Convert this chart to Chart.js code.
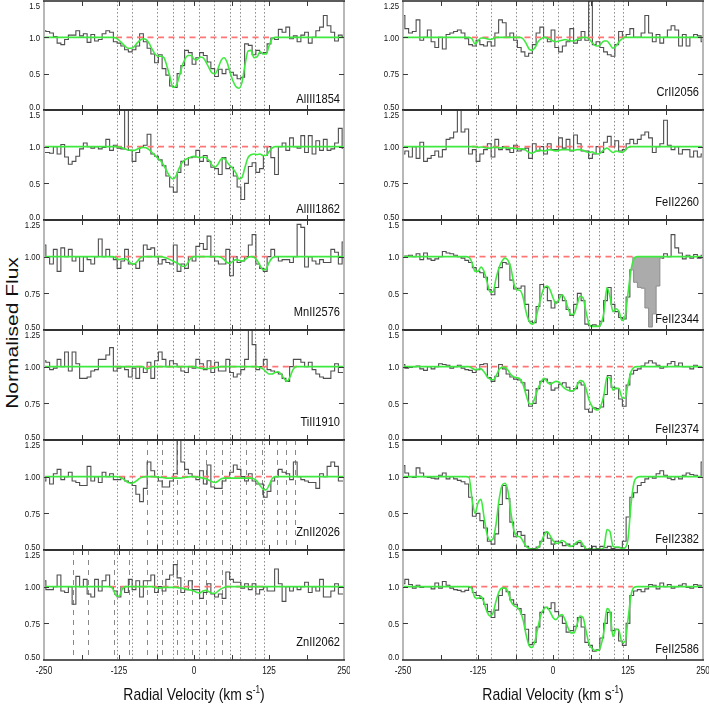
<!DOCTYPE html>
<html>
<head>
<meta charset="utf-8">
<script src="https://cdn.jsdelivr.net/npm/chart.js@4.4.1/dist/chart.umd.min.js"></script>
<style>
html, body { margin: 0; padding: 0; background: #fff; }
body { width: 709px; height: 708px; position: relative; overflow: hidden; }
canvas { position: absolute; }
#ytitle {
	position: absolute; left: -88px; top: 321px; width: 200px; height: 24px;
	line-height: 24px; text-align: center; color: #111;
	font: 21px "Liberation Sans", Arial, Helvetica, sans-serif;
	transform: rotate(-90deg) scaleY(0.82);
}
</style>
</head>
<body>
<div id="ytitle">Normalised Flux</div>
<script>
// velocity grid of the observed spectra (km/s), one value per pixel bin
const velGrid = [
	-250, -243.75, -237.5, -231.25, -225, -218.75, -212.5, -206.25, -200, -193.75,
	-187.5, -181.25, -175, -168.75, -162.5, -156.25, -150, -143.75, -137.5, -131.25,
	-125, -118.75, -112.5, -106.25, -100, -93.75, -87.5, -81.25, -75, -68.75,
	-62.5, -56.25, -50, -43.75, -37.5, -31.25, -25, -18.75, -12.5, -6.25,
	0, 6.25, 12.5, 18.75, 25, 31.25, 37.5, 43.75, 50, 56.25,
	62.5, 68.75, 75, 81.25, 87.5, 93.75, 100, 106.25, 112.5, 118.75,
	125, 131.25, 137.5, 143.75, 150, 156.25, 162.5, 168.75, 175, 181.25,
	187.5, 193.75, 200, 206.25, 212.5, 218.75, 225, 231.25, 237.5, 243.75,
	250
];

// velocities at which the model profiles are tabulated
const fitVel = [
	-250,
	-145, -140, -135, -130, -125, -120, -115, -110, -105, -100,
	-95, -90, -85, -80, -75, -70, -65, -60, -55, -50,
	-45, -40, -35, -30, -25, -20, -15, -10, -5, 0,
	5, 10, 15, 20, 25, 30, 35, 40, 45, 50,
	55, 60, 65, 70, 75, 80, 85, 90, 95, 100,
	105, 110, 115, 120, 125, 130, 135, 140, 145, 150,
	155, 160, 165, 170, 175,
	250
];

// fitted velocity components (dotted lines)
const componentVel = [-128, -103, -61, -35, -16.5, 8.5, 33.5, 60.5, 76.5, 101, 117];
// components of blending transitions (dashed lines)
const mgIBlendVel = [-78, -53, -28, 20, 46, 86, 113, 139, 153, 168];
const crIIBlendVel = [-201, -176, -134, -108, -78, -53, -28, -3, 20, 46];

const xTickMarks = [-187.5, -125, -62.5, 0, 62.5, 125, 187.5];
const xTickLabels = [-250, -125, 0, 125, 250];
const yTicksWide = [0, 0.5, 1.0, 1.5];
const yTicksNarrow = [0.5, 0.75, 1.0, 1.25];

// ---------- observed flux ----------
const alIII1854Flux = [
	1.09, 1.08, 1.06, 1.01, 0.92, 0.90, 0.97, 1.03, 1.03, 1.09,
	1.02, 1.05, 0.93, 1.04, 0.95, 0.97, 1.05, 1.09, 1.07, 0.94,
	0.92, 0.88, 0.83, 0.80, 0.83, 0.88, 1.05, 0.94, 0.85, 0.77,
	0.65, 0.76, 0.57, 0.48, 0.33, 0.31, 0.50, 0.61, 0.82, 0.79,
	0.63, 0.72, 0.79, 0.75, 0.66, 0.57, 0.46, 0.56, 0.50, 0.56,
	0.52, 0.48, 0.43, 0.45, 0.91, 0.89, 0.76, 0.82, 0.78, 0.79,
	0.91, 0.99, 0.97, 1.11, 1.07, 1.14, 0.98, 1.02, 0.94, 1.03,
	1.07, 0.92, 1.00, 1.09, 1.14, 1.30, 1.16, 1.07, 0.95, 1.03,
	1.01
];
const alIII1862Flux = [
	0.92, 0.92, 0.91, 1.00, 0.90, 1.03, 0.86, 0.76, 0.80, 0.87,
	0.97, 1.05, 1.00, 0.98, 1.00, 0.97, 0.99, 1.10, 0.95, 1.02,
	0.98, 0.97, 1.55, 0.95, 0.80, 0.92, 0.99, 1.02, 1.17, 0.90,
	0.87, 0.82, 0.74, 0.60, 0.45, 0.38, 0.65, 0.80, 0.75, 0.85,
	0.86, 0.95, 0.80, 0.88, 0.80, 0.72, 0.70, 0.62, 0.85, 0.70,
	0.72, 0.60, 0.45, 0.28, 0.50, 0.73, 0.78, 0.65, 0.70, 0.88,
	1.00, 0.85, 0.62, 1.00, 1.05, 0.95, 1.12, 1.00, 0.98, 1.15,
	0.92, 1.15, 0.90, 1.08, 0.95, 1.10, 0.95, 0.97, 1.05, 1.25,
	0.98
];
const mnII2576Flux = [
	1.08, 1.00, 0.95, 1.05, 0.90, 1.06, 1.00, 1.05, 0.97, 1.00,
	0.90, 1.00, 0.98, 0.95, 1.00, 1.12, 1.00, 1.05, 1.00, 0.98,
	0.92, 0.97, 1.05, 0.95, 0.95, 0.92, 0.97, 1.08, 1.05, 1.06,
	1.00, 0.95, 0.98, 0.96, 0.95, 1.08, 0.90, 0.95, 0.92, 1.00,
	0.97, 1.07, 1.09, 1.05, 1.14, 1.00, 0.97, 0.95, 0.95, 1.05,
	0.87, 1.00, 0.96, 0.97, 1.00, 1.08, 1.15, 0.95, 0.92, 0.90,
	1.00, 1.05, 1.00, 0.97, 0.98, 0.98, 0.96, 1.00, 1.22, 1.20,
	0.93, 1.00, 0.97, 0.95, 0.98, 0.96, 0.96, 1.05, 1.03, 0.95,
	1.10
];
const tiII1910Flux = [
	1.04, 1.03, 0.98, 0.99, 1.05, 1.00, 1.10, 0.97, 1.10, 1.02,
	0.92, 0.92, 0.93, 0.97, 0.98, 1.05, 1.05, 1.08, 1.13, 0.97,
	0.99, 1.00, 0.98, 0.93, 0.99, 0.92, 1.00, 0.96, 1.03, 0.92,
	1.04, 1.10, 1.05, 1.00, 1.04, 1.02, 1.00, 0.97, 0.96, 1.00,
	0.99, 1.05, 1.02, 0.98, 1.04, 0.96, 1.03, 0.97, 0.97, 1.05,
	0.96, 0.93, 0.95, 0.98, 1.05, 1.30, 1.15, 0.98, 1.00, 1.05,
	0.98, 0.97, 0.96, 0.95, 0.92, 0.90, 1.00, 1.05, 1.05, 1.03,
	1.00, 1.03, 0.98, 0.95, 0.93, 0.92, 0.92, 0.97, 1.02, 0.96,
	0.96
];
const znII2026Flux = [
	0.97, 1.00, 0.95, 1.02, 1.05, 0.98, 1.00, 1.03, 0.97, 0.96,
	0.94, 0.94, 1.07, 0.97, 1.00, 0.96, 1.03, 1.00, 1.02, 0.98,
	0.98, 1.00, 0.97, 0.96, 0.94, 0.88, 0.83, 0.92, 1.10, 1.04,
	1.00, 0.97, 0.93, 0.93, 0.97, 1.02, 1.30, 1.10, 1.05, 1.02,
	1.00, 0.98, 1.04, 0.95, 1.08, 0.93, 0.92, 0.92, 0.97, 1.00,
	1.03, 1.08, 1.05, 1.00, 0.97, 1.02, 0.97, 0.95, 0.95, 0.86,
	0.90, 0.97, 1.00, 1.05, 1.03, 1.02, 0.98, 1.10, 1.00, 0.98,
	0.97, 0.96, 0.96, 0.92, 1.02, 1.00, 1.07, 1.10, 1.07, 0.97,
	0.97
];
const znII2062Flux = [
	1.04, 0.98, 0.98, 1.00, 1.08, 0.97, 0.96, 1.00, 0.88, 1.07,
	1.00, 1.05, 0.95, 0.93, 1.05, 0.97, 1.04, 1.08, 1.00, 0.97,
	0.93, 1.00, 0.96, 1.05, 0.98, 1.04, 0.93, 1.04, 1.04, 1.08,
	0.96, 1.00, 0.97, 1.05, 1.08, 1.15, 1.06, 0.96, 0.98, 1.04,
	0.98, 0.98, 0.92, 0.96, 1.02, 0.95, 0.93, 0.95, 0.92, 1.10,
	1.05, 1.03, 1.03, 0.99, 1.02, 0.98, 1.02, 0.95, 0.98, 1.00,
	0.97, 0.97, 1.12, 1.02, 0.90, 1.00, 0.97, 1.00, 0.98, 1.00,
	1.03, 0.96, 1.00, 0.97, 1.05, 0.93, 0.93, 0.97, 1.02, 0.95,
	0.95
];
const crII2056Flux = [
	1.15, 1.06, 1.03, 1.04, 1.12, 0.98, 1.00, 1.05, 0.97, 0.93,
	1.00, 0.92, 1.02, 1.03, 1.04, 1.05, 1.03, 0.99, 0.95, 0.94,
	0.98, 0.95, 0.94, 0.97, 0.94, 1.03, 1.12, 1.10, 1.00, 1.03,
	0.98, 0.93, 0.90, 0.87, 0.89, 0.95, 1.03, 1.07, 1.00, 0.97,
	1.05, 0.93, 0.90, 0.94, 0.97, 1.06, 0.96, 0.98, 1.04, 0.98,
	1.27, 0.95, 0.97, 0.93, 0.90, 0.88, 0.87, 0.95, 1.04, 1.00,
	1.02, 1.06, 1.00, 1.00, 1.03, 1.15, 1.03, 0.97, 1.02, 0.96,
	1.00, 1.05, 1.08, 1.05, 0.94, 1.02, 0.94, 1.00, 1.02, 1.01,
	0.97
];
const feII2260Flux = [
	0.95, 0.97, 0.93, 1.00, 0.92, 1.03, 0.90, 0.92, 0.94, 0.97,
	0.93, 0.98, 1.05, 1.06, 1.10, 1.27, 1.10, 1.12, 0.95, 0.98,
	0.90, 0.95, 0.98, 1.02, 0.93, 1.05, 0.98, 1.00, 0.98, 0.96,
	1.01, 0.97, 0.98, 0.99, 0.92, 1.02, 0.97, 1.00, 0.95, 1.02,
	0.98, 0.98, 1.06, 0.99, 1.05, 0.97, 1.08, 1.02, 0.97, 0.97,
	0.92, 0.95, 1.00, 0.96, 1.03, 1.07, 1.00, 1.04, 0.97, 0.98,
	1.02, 1.05, 1.02, 1.05, 1.08, 1.10, 1.06, 0.96, 1.00, 1.02,
	1.18, 1.01, 0.98, 1.00, 0.95, 0.98, 0.98, 0.93, 0.97, 0.93,
	0.95
];
const feII2344Flux = [
	1.00, 1.01, 1.02, 1.00, 1.04, 0.96, 1.05, 0.97, 0.95, 0.97,
	1.00, 1.07, 1.05, 1.04, 1.02, 1.00, 0.98, 0.95, 0.92, 0.85,
	0.80, 0.78, 0.72, 0.55, 0.48, 0.58, 0.85, 0.92, 0.90, 0.68,
	0.56, 0.57, 0.60, 0.35, 0.12, 0.10, 0.32, 0.62, 0.58, 0.40,
	0.30, 0.38, 0.48, 0.40, 0.28, 0.20, 0.35, 0.50, 0.40, 0.08,
	0.06, 0.07, 0.05, 0.12, 0.40, 0.58, 0.35, 0.25, 0.17, 0.15,
	0.45, 0.82, null, null, null, null, null, null, null, 0.98,
	1.04, 1.00, 1.30, 1.12, 1.05, 0.97, 1.02, 0.98, 1.03, 0.98,
	1.02
];
// blended (masked) stretch of FeII2344, shaded grey
const feII2344BlendVel = [131.25, 137.5, 143.75, 150, 156.25, 162.5, 168.75, 175, 181.25];
const feII2344BlendFlux = [0.82, 0.65, 0.58, 0.57, 0.30, 0.04, 0.22, 0.60, 0.98];
const feII2374Flux = [
	1.03, 0.98, 0.99, 1.00, 1.01, 0.97, 0.95, 1.00, 0.97, 1.00,
	1.04, 1.03, 1.02, 0.98, 1.00, 1.02, 0.98, 0.96, 0.95, 0.92,
	0.96, 1.03, 1.04, 0.85, 0.80, 0.87, 1.03, 0.97, 0.90, 0.86,
	0.83, 0.82, 0.78, 0.68, 0.46, 0.50, 0.70, 0.80, 0.83, 0.78,
	0.68, 0.71, 0.76, 0.78, 0.72, 0.67, 0.70, 0.78, 0.75, 0.42,
	0.38, 0.44, 0.43, 0.45, 0.62, 0.88, 0.72, 0.70, 0.56, 0.46,
	0.75, 0.90, 0.95, 0.97, 1.01, 1.05, 1.08, 1.05, 1.02, 0.98,
	1.00, 1.04, 1.07, 1.01, 1.05, 1.00, 1.00, 0.97, 1.02, 1.00,
	1.00
];
const feII2382Flux = [
	1.15, 1.05, 1.00, 0.99, 1.12, 1.05, 1.00, 0.99, 0.98, 0.97,
	1.02, 1.05, 0.97, 1.00, 0.97, 0.95, 0.93, 0.90, 0.72, 0.46,
	0.50, 0.40, 0.30, 0.12, 0.08, 0.22, 0.62, 0.88, 0.70, 0.38,
	0.18, 0.25, 0.20, 0.05, 0.02, 0.02, 0.04, 0.12, 0.24, 0.16,
	0.08, 0.12, 0.10, 0.06, 0.08, 0.05, 0.08, 0.10, 0.05, 0.01,
	0.02, 0.05, 0.02, 0.05, 0.03, 0.05, 0.02, 0.03, 0.03, 0.12,
	0.45, 0.72, 0.78, 0.88, 0.92, 0.97, 1.00, 0.98, 1.04, 1.08,
	1.02, 0.98, 0.96, 1.00, 0.97, 1.02, 1.05, 1.03, 1.02, 1.00,
	1.20
];
const feII2586Flux = [
	1.04, 1.10, 1.03, 0.98, 1.02, 0.99, 1.00, 1.00, 0.97, 1.05,
	0.98, 1.07, 1.02, 0.98, 0.96, 0.95, 0.93, 0.95, 0.99, 0.92,
	0.88, 0.84, 0.76, 0.66, 0.58, 0.68, 0.88, 0.98, 0.93, 0.82,
	0.76, 0.70, 0.62, 0.42, 0.21, 0.24, 0.45, 0.65, 0.72, 0.70,
	0.78, 0.66, 0.60, 0.50, 0.38, 0.40, 0.46, 0.58, 0.45, 0.24,
	0.20, 0.12, 0.14, 0.30, 0.50, 0.65, 0.40, 0.42, 0.26, 0.20,
	0.50, 0.88, 0.94, 0.96, 0.93, 0.97, 1.03, 1.02, 0.97, 1.05,
	1.00, 1.03, 0.98, 1.00, 1.02, 1.04, 0.99, 0.98, 1.03, 1.02,
	1.01
];

// ---------- model profiles (on fitVel) ----------
const alIII1854Fit = [1,
	1, 1, 1, 0.99, 0.96, 0.92, 0.88, 0.85, 0.85, 0.87,
	0.92, 0.96, 0.98, 0.97, 0.92, 0.84, 0.77, 0.74, 0.74, 0.72,
	0.60, 0.45, 0.31, 0.33, 0.45, 0.60, 0.70, 0.75, 0.75, 0.70,
	0.69, 0.73, 0.72, 0.66, 0.58, 0.51, 0.50, 0.57, 0.68, 0.72,
	0.66, 0.52, 0.40, 0.32, 0.30, 0.38, 0.62, 0.81, 0.82, 0.72,
	0.73, 0.80, 0.77, 0.77, 0.88, 0.98, 1, 1, 1, 1,
	1, 1, 1, 1, 1,
	1];
const alIII1862Fit = [1,
	1, 1, 1, 1, 0.995, 0.985, 0.97, 0.955, 0.95, 0.95,
	0.965, 0.98, 0.99, 0.985, 0.96, 0.92, 0.88, 0.84, 0.80, 0.74,
	0.66, 0.59, 0.56, 0.60, 0.70, 0.78, 0.82, 0.84, 0.86, 0.87,
	0.86, 0.85, 0.86, 0.85, 0.81, 0.75, 0.72, 0.76, 0.83, 0.84,
	0.79, 0.74, 0.70, 0.64, 0.56, 0.58, 0.72, 0.85, 0.89, 0.90,
	0.89, 0.90, 0.88, 0.88, 0.93, 0.98, 1, 1, 1, 1,
	1, 1, 1, 1, 1,
	1];
const mnII2576Fit = [1,
	1, 1, 1, 0.99, 0.98, 0.985, 0.985, 0.975, 0.955, 0.95,
	0.965, 0.99, 1, 1, 1, 1, 1, 1, 1, 0.995,
	0.99, 0.98, 0.97, 0.96, 0.95, 0.935, 0.935, 0.96, 0.99, 1,
	1, 1, 1, 1, 1, 1, 1, 1, 0.995, 0.98,
	0.96, 0.955, 0.97, 0.98, 0.975, 0.97, 0.98, 0.995, 1, 0.995,
	0.975, 0.94, 0.91, 0.915, 0.96, 0.99, 1, 1, 1, 1,
	1, 1, 1, 1, 1,
	1];
const tiII1910Fit = [1,
	1, 1, 1, 1, 1, 1, 1, 1, 1, 1,
	1, 1, 1, 0.985, 0.99, 1, 1, 1, 1, 1,
	1, 1, 1, 1, 1, 1, 1, 1, 1, 1,
	0.995, 0.99, 0.988, 0.988, 0.988, 0.99, 0.993, 0.997, 1, 1,
	1, 1, 1, 1, 1, 1, 1, 1, 1, 1,
	1, 0.995, 0.985, 0.965, 0.95, 0.95, 0.96, 0.965, 0.95, 0.92,
	0.90, 0.93, 0.98, 1, 1,
	1];
const znII2026Fit = [1,
	1, 1, 1, 1, 0.998, 0.99, 0.975, 0.96, 0.955, 0.96,
	0.975, 0.99, 0.998, 1, 1, 1, 1, 0.998, 0.995, 0.993,
	0.99, 0.99, 0.99, 0.99, 0.99, 0.992, 0.995, 0.998, 1, 1,
	0.998, 0.995, 0.99, 0.985, 0.975, 0.965, 0.96, 0.97, 0.985, 0.99,
	0.99, 0.99, 0.99, 0.99, 0.99, 0.99, 0.99, 0.99, 0.99, 0.985,
	0.97, 0.94, 0.915, 0.91, 0.94, 0.985, 1, 1, 1, 1,
	1, 1, 1, 1, 1,
	1];
const znII2062Fit = [1,
	1, 1, 0.985, 0.94, 0.935, 0.98, 1, 1, 1, 1,
	1, 1, 1, 1, 1, 1, 0.995, 0.99, 0.992, 0.995,
	0.995, 0.995, 0.995, 0.995, 0.992, 0.99, 0.985, 0.98, 0.975, 0.97,
	0.96, 0.958, 0.97, 0.975, 0.965, 0.955, 0.955, 0.97, 0.985, 0.995,
	1, 1, 1, 1, 1, 1, 1, 1, 1, 1,
	1, 1, 1, 1, 1, 1, 1, 1, 1, 1,
	1, 1, 1, 1, 1,
	1];
const crII2056Fit = [1,
	1, 1, 0.99, 0.955, 0.975, 0.995, 0.995, 0.99, 0.985, 0.99,
	1, 1, 1, 1, 1, 1, 1, 1, 1, 0.99,
	0.96, 0.92, 0.91, 0.93, 0.97, 0.99, 1, 0.995, 0.985, 0.975,
	0.97, 0.975, 0.98, 0.985, 0.98, 0.975, 0.975, 0.985, 0.995, 1,
	1, 0.99, 0.965, 0.945, 0.94, 0.955, 0.975, 0.975, 0.95, 0.925,
	0.94, 0.97, 0.99, 1, 1, 1, 1, 1, 1, 1,
	1, 1, 1, 1, 1,
	1];
const feII2260Fit = [1,
	1, 1, 1, 1, 0.995, 0.998, 0.995, 0.99, 0.99, 0.995,
	0.995, 0.993, 0.99, 0.995, 0.99, 0.99, 0.99, 0.985, 0.985, 0.985,
	0.975, 0.96, 0.955, 0.965, 0.975, 0.975, 0.97, 0.975, 0.98, 0.975,
	0.97, 0.975, 0.98, 0.98, 0.98, 0.975, 0.975, 0.98, 0.98, 0.975,
	0.965, 0.96, 0.965, 0.955, 0.95, 0.96, 0.98, 0.99, 0.975, 0.96,
	0.97, 0.965, 0.96, 0.975, 0.995, 1, 1, 1, 1, 1,
	1, 1, 1, 1, 1,
	1];
const feII2344Fit = [1,
	1, 0.99, 0.92, 0.80, 0.80, 0.86, 0.80, 0.66, 0.52, 0.52,
	0.70, 0.85, 0.94, 0.98, 0.95, 0.84, 0.62, 0.55, 0.54, 0.45,
	0.25, 0.12, 0.08, 0.12, 0.28, 0.45, 0.57, 0.60, 0.55, 0.44,
	0.36, 0.42, 0.48, 0.42, 0.30, 0.21, 0.22, 0.34, 0.46, 0.44,
	0.25, 0.08, 0.05, 0.05, 0.05, 0.08, 0.25, 0.58, 0.45, 0.25,
	0.29, 0.25, 0.13, 0.18, 0.50, 0.82, 0.97, 1, 1, 1,
	1, 1, 1, 1, 1,
	1];
const feII2374Fit = [1,
	1, 1, 0.98, 0.96, 0.965, 0.97, 0.93, 0.87, 0.83, 0.82,
	0.87, 0.96, 0.99, 0.99, 0.95, 0.89, 0.86, 0.85, 0.83, 0.76,
	0.62, 0.50, 0.49, 0.58, 0.70, 0.79, 0.84, 0.80, 0.76, 0.78,
	0.80, 0.79, 0.74, 0.70, 0.68, 0.67, 0.68, 0.74, 0.81, 0.80,
	0.70, 0.55, 0.46, 0.42, 0.41, 0.47, 0.62, 0.86, 0.84, 0.68,
	0.71, 0.70, 0.58, 0.57, 0.76, 0.93, 0.99, 1, 1, 1,
	1, 1, 1, 1, 1,
	1];
const feII2382Fit = [1,
	1, 0.99, 0.70, 0.50, 0.64, 0.69, 0.45, 0.22, 0.13, 0.15,
	0.35, 0.68, 0.88, 0.91, 0.80, 0.50, 0.26, 0.19, 0.18, 0.12,
	0.05, 0.02, 0.01, 0.01, 0.03, 0.10, 0.20, 0.25, 0.20, 0.13,
	0.09, 0.10, 0.13, 0.11, 0.06, 0.05, 0.07, 0.11, 0.13, 0.07,
	0.02, 0.01, 0.01, 0.01, 0.01, 0.01, 0.04, 0.28, 0.25, 0.05,
	0.04, 0.04, 0.02, 0.03, 0.15, 0.62, 0.92, 0.99, 1, 1,
	1, 1, 1, 1, 1,
	1];
const feII2586Fit = [1,
	1, 1, 0.97, 0.85, 0.84, 0.87, 0.78, 0.66, 0.60, 0.64,
	0.80, 0.93, 0.98, 0.98, 0.93, 0.80, 0.74, 0.72, 0.67, 0.55,
	0.35, 0.20, 0.17, 0.26, 0.45, 0.62, 0.70, 0.72, 0.66, 0.58,
	0.55, 0.60, 0.62, 0.55, 0.44, 0.37, 0.37, 0.48, 0.60, 0.58,
	0.40, 0.22, 0.16, 0.13, 0.13, 0.20, 0.40, 0.70, 0.65, 0.32,
	0.42, 0.40, 0.24, 0.25, 0.55, 0.88, 0.99, 1, 1, 1,
	1, 1, 1, 1, 1,
	1];

// ---------- layout ----------
const FONT = '"Liberation Sans", Arial, Helvetica, sans-serif';
const SQUEEZE = 0.82;
const COL_LEFT = [44, 403];
const PLOT_W = 300;
const ROW_EDGES = [1, 110, 220, 330, 440, 550, 660];
const PAD = { left: 44, right: 6, top: 12, bottom: 12, bottomLast: 48 };

const panels = [
	{ name: "AlIII1854", col: 0, row: 0, flux: alIII1854Flux, fit: alIII1854Fit, wide: true, cont: [-130, 128] },
	{ name: "AlIII1862", col: 0, row: 1, flux: alIII1862Flux, fit: alIII1862Fit, wide: true, cont: [-130, 128] },
	{ name: "MnII2576", col: 0, row: 2, flux: mnII2576Flux, fit: mnII2576Fit, wide: false, cont: [-132, 128] },
	{ name: "TiII1910", col: 0, row: 3, flux: tiII1910Flux, fit: tiII1910Fit, wide: false, cont: [-132, 172] },
	{ name: "ZnII2026", col: 0, row: 4, flux: znII2026Flux, fit: znII2026Fit, wide: false, cont: [-125, 140], blendLines: mgIBlendVel },
	{ name: "ZnII2062", col: 0, row: 5, flux: znII2062Flux, fit: znII2062Fit, wide: false, cont: [-140, 122], blendLines: crIIBlendVel },
	{ name: "CrII2056", col: 1, row: 0, flux: crII2056Flux, fit: crII2056Fit, wide: false, cont: [-135, 122] },
	{ name: "FeII2260", col: 1, row: 1, flux: feII2260Flux, fit: feII2260Fit, wide: false, cont: [-135, 130] },
	{ name: "FeII2344", col: 1, row: 2, flux: feII2344Flux, fit: feII2344Fit, wide: true, cont: [-140, 135],
		blend: { vel: feII2344BlendVel, flux: feII2344BlendFlux } },
	{ name: "FeII2374", col: 1, row: 3, flux: feII2374Flux, fit: feII2374Fit, wide: true, cont: [-138, 133] },
	{ name: "FeII2382", col: 1, row: 4, flux: feII2382Flux, fit: feII2382Fit, wide: true, cont: [-140, 135] },
	{ name: "FeII2586", col: 1, row: 5, flux: feII2586Flux, fit: feII2586Fit, wide: true, cont: [-137, 133] },
];

function squeezedText(ctx, text, x, y, size, align) {
	ctx.save();
	ctx.font = `${size}px ${FONT}`;
	ctx.textAlign = align;
	ctx.textBaseline = "alphabetic";
	ctx.fillStyle = "#111";
	ctx.translate(x, y);
	ctx.scale(SQUEEZE, 1);
	ctx.fillText(text, 0, 0);
	ctx.restore();
}

function drawVelocityTitle(ctx, cx, baseY) {
	const main = "Radial Velocity (km s";
	const sup = "-1";
	const close = ")";
	ctx.save();
	ctx.translate(cx, baseY);
	ctx.scale(SQUEEZE, 1);
	ctx.fillStyle = "#111";
	ctx.textBaseline = "alphabetic";
	ctx.textAlign = "left";
	ctx.font = `17px ${FONT}`;
	const wMain = ctx.measureText(main).width;
	const wClose = ctx.measureText(close).width;
	ctx.font = `10px ${FONT}`;
	const wSup = ctx.measureText(sup).width;
	let x = -(wMain + wSup + wClose) / 2;
	ctx.font = `17px ${FONT}`;
	ctx.fillText(main, x, 0);
	x += wMain;
	ctx.font = `10px ${FONT}`;
	ctx.fillText(sup, x, -7);
	x += wSup;
	ctx.font = `17px ${FONT}`;
	ctx.fillText(close, x, 0);
	ctx.restore();
}

function makeDecor(panel) {
	const yTicks = panel.wide ? yTicksWide : yTicksNarrow;
	const digits = panel.wide ? 1 : 2;
	const isBottom = panel.row === ROW_EDGES.length - 2;

	return {
		id: "decor",
		beforeDatasetsDraw(chart) {
			const { ctx, chartArea: a } = chart;
			const x = chart.scales.x;
			ctx.save();
			ctx.beginPath();
			ctx.rect(a.left, a.top, a.right - a.left, a.bottom - a.top);
			ctx.clip();
			ctx.lineWidth = 1;
			ctx.strokeStyle = "#8a8a8a";
			ctx.setLineDash([1.5, 2.2]);
			componentVel.forEach((v) => {
				const px = Math.round(x.getPixelForValue(v)) + 0.5;
				ctx.beginPath();
				ctx.moveTo(px, a.top);
				ctx.lineTo(px, a.bottom);
				ctx.stroke();
			});
			if (panel.blendLines) {
				ctx.strokeStyle = "#888";
				ctx.setLineDash([5, 5]);
				panel.blendLines.forEach((v) => {
					const px = Math.round(x.getPixelForValue(v)) + 0.5;
					ctx.beginPath();
					ctx.moveTo(px, a.top);
					ctx.lineTo(px, a.bottom);
					ctx.stroke();
				});
			}
			ctx.restore();
		},
		afterDatasetsDraw(chart) {
			const { ctx, chartArea: a } = chart;
			const x = chart.scales.x;
			const y = chart.scales.y;
			ctx.save();
			// side edges are light grey, top and bottom edges dark
			ctx.strokeStyle = "#b8b8b8";
			ctx.lineWidth = 2;
			ctx.beginPath();
			ctx.moveTo(a.left, a.top);
			ctx.lineTo(a.left, a.bottom);
			ctx.moveTo(a.right, a.top);
			ctx.lineTo(a.right, a.bottom);
			ctx.stroke();
			ctx.strokeStyle = "#262626";
			ctx.lineWidth = 1.4;
			ctx.beginPath();
			ctx.moveTo(a.left - 1, a.top);
			ctx.lineTo(a.right + 1, a.top);
			ctx.moveTo(a.left - 1, a.bottom);
			ctx.lineTo(a.right + 1, a.bottom);
			ctx.stroke();

			// inward ticks on all four sides
			ctx.strokeStyle = "#3a3a3a";
			ctx.lineWidth = 1;
			ctx.beginPath();
			xTickMarks.forEach((v) => {
				const px = Math.round(x.getPixelForValue(v)) + 0.5;
				ctx.moveTo(px, a.bottom);
				ctx.lineTo(px, a.bottom - 5);
				ctx.moveTo(px, a.top);
				ctx.lineTo(px, a.top + 5);
			});
			yTicks.slice(1, -1).forEach((v) => {
				const py = Math.round(y.getPixelForValue(v)) + 0.5;
				ctx.moveTo(a.left, py);
				ctx.lineTo(a.left + 5, py);
				ctx.moveTo(a.right, py);
				ctx.lineTo(a.right - 5, py);
			});
			ctx.stroke();
			ctx.restore();

			// y tick labels: bottom one sits above the edge, top one below it
			const cap = 6.8;
			yTicks.forEach((v, i) => {
				const py = y.getPixelForValue(v);
				let base = py + cap / 2;
				if (i === 0) base = a.bottom - 0.5;
				if (i === yTicks.length - 1) base = a.top + 1.5 + cap;
				squeezedText(ctx, v.toFixed(digits), a.left - 4, base, 9.5, "right");
			});

			// transition label
			squeezedText(ctx, panel.name, a.right - 4, a.bottom - (panel.wide ? 12 : 19) + 5, 13.5, "right");

			if (isBottom) {
				xTickLabels.forEach((v) => {
					squeezedText(ctx, String(v), x.getPixelForValue(v), a.bottom + 13.5, 10, "center");
				});
				drawVelocityTitle(ctx, (a.left + a.right) / 2, a.bottom + 40);
			}
		},
	};
}

panels.forEach((panel) => {
	const top = ROW_EDGES[panel.row];
	const plotH = ROW_EDGES[panel.row + 1] - top;
	const isBottom = panel.row === ROW_EDGES.length - 2;
	const padBottom = isBottom ? PAD.bottomLast : PAD.bottom;

	const canvas = document.createElement("canvas");
	const w = PAD.left + PLOT_W + PAD.right;
	const h = PAD.top + plotH + padBottom;
	canvas.width = w;
	canvas.height = h;
	canvas.style.width = w + "px";
	canvas.style.height = h + "px";
	canvas.style.left = COL_LEFT[panel.col] - PAD.left + "px";
	canvas.style.top = top - PAD.top + "px";
	document.body.appendChild(canvas);

	const datasets = [
		{
			label: "model",
			data: fitVel.map((v, i) => ({ x: v, y: panel.fit[i] })),
			borderColor: "#3eea3e",
			borderWidth: 1.6,
			cubicInterpolationMode: "monotone",
			pointRadius: 0,
			order: 0,
		},
		{
			label: "continuum",
			data: panel.cont.map((v) => ({ x: v, y: 1 })),
			borderColor: "#ff7474",
			borderWidth: 1.6,
			borderDash: [6, 4.5],
			pointRadius: 0,
			order: 1,
		},
		{
			label: "data",
			data: velGrid.map((v, i) => ({ x: v, y: panel.flux[i] })),
			borderColor: "#4e4e4e",
			borderWidth: 1.1,
			stepped: "middle",
			spanGaps: false,
			pointRadius: 0,
			order: 2,
		},
	];
	if (panel.blend) {
		datasets.push({
			label: "blend",
			data: panel.blend.vel.map((v, i) => ({ x: v, y: panel.blend.flux[i] })),
			borderColor: "#8c8c8c",
			backgroundColor: "#ababab",
			borderWidth: 1,
			stepped: "middle",
			fill: { value: 1 },
			pointRadius: 0,
			order: 3,
		});
	}

	new Chart(canvas, {
		type: "line",
		data: { datasets },
		options: {
			responsive: false,
			animation: false,
			devicePixelRatio: 1,
			events: [],
			layout: {
				padding: { left: PAD.left, right: PAD.right, top: PAD.top, bottom: padBottom },
			},
			plugins: {
				legend: { display: false },
				tooltip: { enabled: false },
			},
			scales: {
				x: { type: "linear", min: -250, max: 250, display: false },
				y: {
					min: panel.wide ? 0 : 0.5,
					max: panel.wide ? 1.5 : 1.25,
					display: false,
				},
			},
		},
		plugins: [makeDecor(panel)],
	});
});
</script>
</body>
</html>
